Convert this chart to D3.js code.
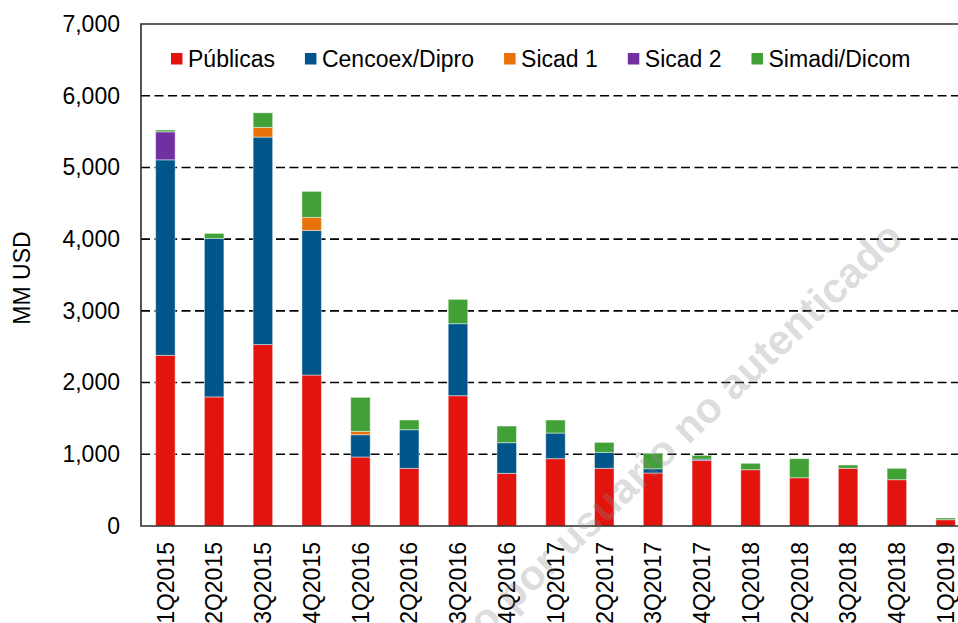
<!DOCTYPE html>
<html>
<head>
<meta charset="utf-8">
<script src="https://cdn.jsdelivr.net/npm/d3@7"></script>
<style>
  html, body { margin: 0; padding: 0; background: #fff; }
  svg { display: block; font-family: "Liberation Sans", Arial, sans-serif; }
</style>
</head>
<body>
<svg id="chart" width="958" height="623"></svg>
<script>
const categories = ["1Q2015","2Q2015","3Q2015","4Q2015","1Q2016","2Q2016","3Q2016","4Q2016",
  "1Q2017","2Q2017","3Q2017","4Q2017","1Q2018","2Q2018","3Q2018","4Q2018","1Q2019"];
const seriesNames = ["Públicas","Cencoex/Dipro","Sicad 1","Sicad 2","Simadi/Dicom"];
const publicas = [2380,1800,2530,2105,962,804,1817,734,939,804,739,916,785,673,804,646,88];
const cencoex  = [2726,2210,2893,2017,311,539,1004,428,357,223,60,18,0,0,0,0,0];
const sicad1   = [0,0,135,181,47,0,0,0,0,0,0,0,0,0,0,0,0];
const sicad2   = [391,0,0,0,0,0,0,0,0,0,0,0,0,0,0,0,0];
const simadi   = [25,70,204,363,474,135,339,232,182,139,214,51,89,266,46,158,24];
const yTicks = [0,1000,2000,3000,4000,5000,6000,7000];
const colors = ["#E3140E","#00558A","#E8710A","#7030A0","#41A036"];
const yTitle = "MM USD";
const watermark = "Documento descargado por usuario no autenticado";

(function () {
const svg = d3.select("#chart");
const W = 958, H = 623;
const pLeft = 141, pTop = 24, pBottom = 526, pRight = 970;

svg.append("rect").attr("width", W).attr("height", H).attr("fill", "#fff");

const x = d3.scaleBand().domain(categories).range([pLeft, pRight]).paddingInner(0.6).paddingOuter(0.3);
const y = d3.scaleLinear().domain([0, 7000]).range([pBottom, pTop]);

// gridlines
svg.append("g").selectAll("line").data(yTicks.filter(t => t > 0 && t < 7000)).join("line")
  .attr("x1", pLeft).attr("x2", W).attr("y1", d => y(d)).attr("y2", d => y(d))
  .attr("stroke", "#000").attr("stroke-width", 1.6).attr("stroke-dasharray", "9,4.5");

// stacked data
const rows = categories.map((c, i) => ({
  cat: c,
  "Públicas": publicas[i], "Cencoex/Dipro": cencoex[i], "Sicad 1": sicad1[i],
  "Sicad 2": sicad2[i], "Simadi/Dicom": simadi[i]
}));
const stack = d3.stack().keys(seriesNames)(rows);

const gBars = svg.append("g");
stack.forEach((layer, k) => {
  gBars.append("g").attr("fill", colors[k]).selectAll("rect")
    .data(layer.filter(d => d[1] - d[0] > 0)).join("rect")
    .attr("x", d => x(d.data.cat))
    .attr("width", x.bandwidth())
    .attr("y", d => y(d[1]))
    .attr("height", d => y(d[0]) - y(d[1]))
    .attr("stroke", "rgba(255,255,255,0.45)").attr("stroke-width", 1);
});

// frame
svg.append("path")
  .attr("d", `M${W},${pTop}H${pLeft}V${pBottom}H${W}`)
  .attr("fill", "none").attr("stroke", "#2b2b2b").attr("stroke-width", 1.6);

// y axis labels
const yAxis = d3.axisLeft(y).tickValues(yTicks).tickFormat(d3.format(",")).tickSize(0).tickPadding(21);
const gy = svg.append("g").attr("transform", `translate(${pLeft},0)`).call(yAxis);
gy.select(".domain").remove();
gy.selectAll("text").attr("font-size", 23).attr("fill", "#000")
  .attr("font-family", "'Liberation Sans', Arial, sans-serif");

// x axis labels
const xAxis = d3.axisBottom(x).tickSize(0);
const gx = svg.append("g").attr("transform", `translate(0,${pBottom})`).call(xAxis);
gx.select(".domain").remove();
gx.selectAll("text")
  .attr("font-size", 23).attr("fill", "#000")
  .attr("font-family", "'Liberation Sans', Arial, sans-serif")
  .attr("text-anchor", "end")
  .attr("transform", "rotate(-90)")
  .attr("x", -16).attr("y", 0).attr("dy", "0.36em");

// y title
svg.append("text")
  .attr("transform", "translate(22,278) rotate(-90)")
  .attr("text-anchor", "middle").attr("dy", "0.36em")
  .attr("font-size", 23).attr("fill", "#000")
  .text(yTitle);

// legend
const gLeg = svg.append("g");
let lx = 171;
seriesNames.forEach((name, k) => {
  gLeg.append("rect").attr("x", lx).attr("y", 53).attr("width", 11.5).attr("height", 11.5).attr("fill", colors[k]);
  const t = gLeg.append("text").attr("x", lx + 17).attr("y", 59).attr("dy", "0.36em")
    .attr("font-size", 23).attr("fill", "#000").text(name);
  lx += 17 + t.node().getComputedTextLength() + 30;
});

// watermark
svg.append("text")
  .attr("transform", "translate(905,240) rotate(-43.5)")
  .attr("text-anchor", "end")
  .attr("font-size", 42).attr("font-weight", "bold")
  .attr("fill", "#888").attr("fill-opacity", 0.3)
  .text(watermark);
})();
</script>
</body>
</html>
